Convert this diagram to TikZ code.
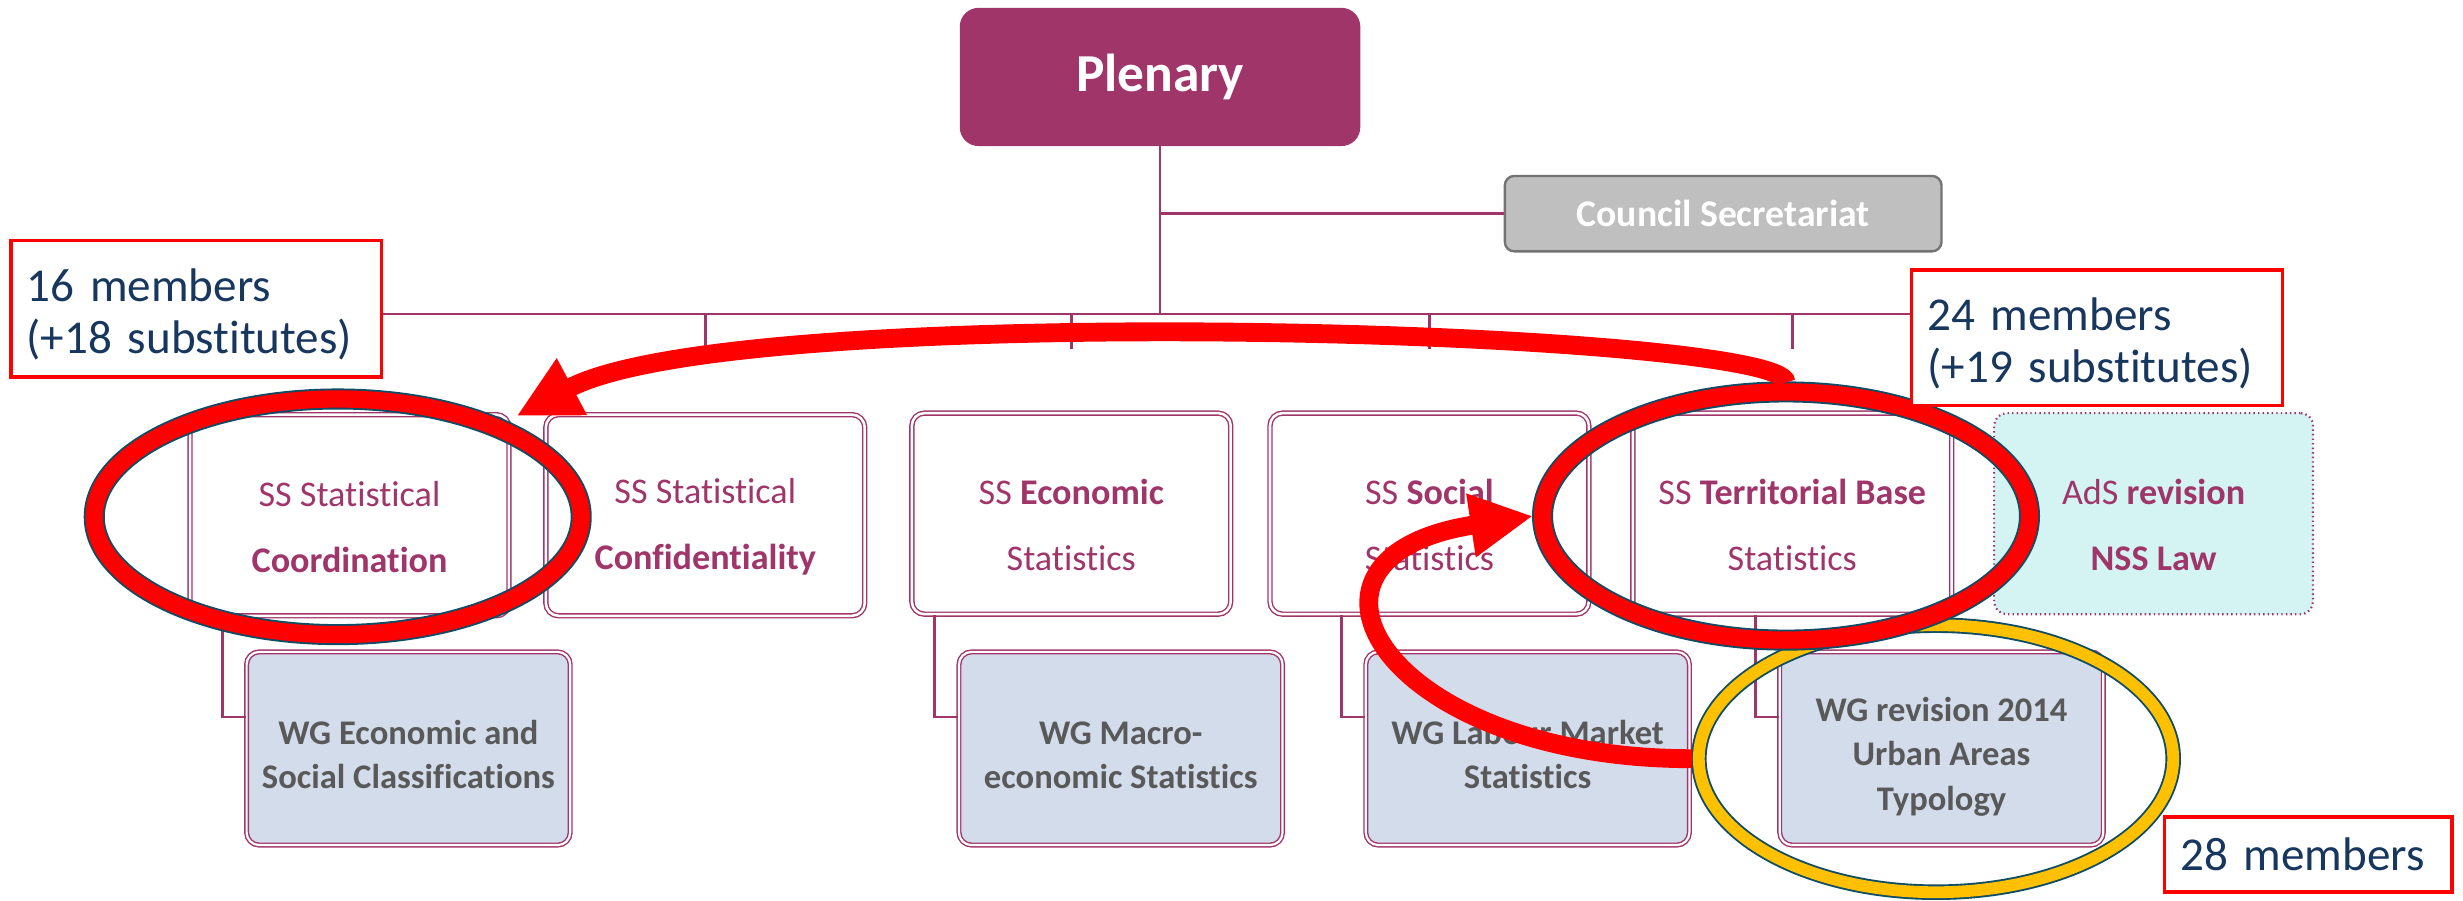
\documentclass[tikz,border=0pt]{standalone}
\usepackage{fontspec}
\setmainfont[Ligatures=NoCommon]{Carlito}
\usetikzlibrary{arrows.meta,shapes.geometric}
\definecolor{plum}{HTML}{A0356A}
\definecolor{wgblue}{HTML}{D3DCEB}
\definecolor{wggray}{HTML}{595959}
\definecolor{adscyan}{HTML}{D4F4F4}
\definecolor{notenavy}{HTML}{17375E}
\definecolor{ringteal}{HTML}{0E4D64}
\definecolor{ringgold}{HTML}{FFC000}
% invisible strut that lowers the first line of a box
\newcommand{\lift}[1]{\rule{0pt}{#1}}
\begin{document}
\begin{tikzpicture}[x=1pt, y=-1pt,
   link/.style={draw=plum, line width=1.6pt},
   plenbox/.style={fill=plum, rounded corners=12pt, minimum width=255pt, minimum height=88pt,
     text=white, font=\fontsize{34}{40}\selectfont\bfseries},
   secbox/.style={fill=black!25, draw=black!55, line width=1.5pt, rounded corners=6pt,
     minimum width=278pt, minimum height=48pt, text=white, font=\fontsize{24}{28}\selectfont\bfseries},
   ssbox/.style={draw=plum, double=white, double distance=1.6pt, line width=0.9pt, fill=white,
     rounded corners=8pt, minimum width=203pt, minimum height=128pt, align=center,
     text=plum, font=\fontsize{23}{42}\selectfont},
   adsbox/.style={ssbox, double=none, fill=adscyan, dotted, line width=1.4pt},
   wgbox/.style={draw=plum, double=white, double distance=1.4pt, line width=0.9pt, fill=wgblue,
     rounded corners=8pt, minimum width=206pt, minimum height=123pt, align=center,
     text=wggray, font=\fontsize{22}{28.5}\selectfont\bfseries},
   note/.style={draw=red, line width=2.2pt, fill=white, align=left, inner xsep=10pt,
     text=notenavy, font=\fontsize{30}{33}\selectfont},
   redring/.style={ellipse, draw=ringteal, line width=1.2pt, double=red, double distance=11pt,
     inner sep=0pt, outer sep=6pt},
   goldring/.style={redring, double=ringgold, double distance=7.5pt, outer sep=4.5pt},
   redarrow/.style={draw=red, line width=12pt, -{Triangle[length=40pt, width=38pt]}}]
   % Frame: 1568 x 573 units, y runs downwards
   \useasboundingbox (0,0) rectangle (1568,573);

   % Top of the chart
   \node[plenbox] (plenary) at (738.5,49) {Plenary};
   \node[secbox] (council) at (1097,136) {Council Secretariat};
   \coordinate (bus) at (0,200);

   % Sections
   \node[ssbox] (coord)  at (222.5,328) {\lift{31pt}SS Statistical\\\textbf{Coordination}};
   \node[ssbox] (conf)   at (449,328)   {\lift{31pt}SS Statistical\\\textbf{Confidentiality}};
   \node[ssbox] (econ)   at (682,327)   {\lift{31pt}SS \textbf{Economic}\\Statistics};
   \node[ssbox] (social) at (910,327)   {\lift{31pt}SS \textbf{Social}\\Statistics};
   \node[ssbox] (territ) at (1141,327)  {\lift{31pt}SS \textbf{Territorial Base}\\Statistics};
   \node[adsbox] (ads)   at (1371,327)  {\lift{31pt}AdS \textbf{revision}\\\textbf{NSS Law}};

   % Working groups
   \node[wgbox] (wgclass)  at (260,476.5)   {\lift{23pt}WG Economic and\\Social Classifications};
   \node[wgbox] (wgmacro)  at (713.5,476.5) {\lift{23pt}WG Macro-\\economic Statistics};
   \node[wgbox] (wglabour) at (972.5,476.5) {\lift{23pt}WG Labour Market\\Statistics};
   \node[wgbox] (wgurban)  at (1236,476.5)  {\lift{26pt}WG revision 2014\\Urban Areas\\Typology};

   % Lines
   \draw[link] (plenary.south) -- (plenary.south |- bus);
   \draw[link] (plenary.south |- council) -- (council.west);
   \draw[link] (coord.north |- bus) -- (ads.north |- bus);
   \foreach \s in {coord,conf,econ,social,territ,ads}
     \draw[link] (\s.north |- bus) -- ++(0,22);
   \foreach \s/\w in {coord/wgclass,econ/wgmacro,social/wglabour,territ/wgurban}
     \draw[link] ([xshift=-15pt]\w.west |- \s.south) |- ([yshift=20pt]\w.west);

   % Highlights
   \node[goldring, minimum width=302pt, minimum height=170pt] (ringurban) at (1232.5,483) {};
   \node[redring, minimum width=310pt, minimum height=150pt] (ringcoord) at (215,329) {};
   \node[redring, minimum width=310pt, minimum height=158pt] (ringterrit) at (1137,328.5) {};
   \draw[redarrow] (ringterrit.north) .. controls +(0,-33) and +(141,-75) .. ([shift={(8,-3)}]ringcoord.30);
   \draw[redarrow] (ringurban.west) .. controls +(-195,0) and +(-172,26) .. (ringterrit.west);

   % Member counts
   \node[note, text width=216pt, minimum height=87pt] (note16) at (125,196.5) {\lift{28pt}16 members\\(+18 substitutes)};
   \node[note, text width=216pt, minimum height=86pt] (note24) at (1335,215) {\lift{28pt}24 members\\(+19 substitutes)};
   \node[note, text width=163pt, minimum height=48pt] (note28) at (1469.5,544) {28 members};
\end{tikzpicture}
\end{document}
